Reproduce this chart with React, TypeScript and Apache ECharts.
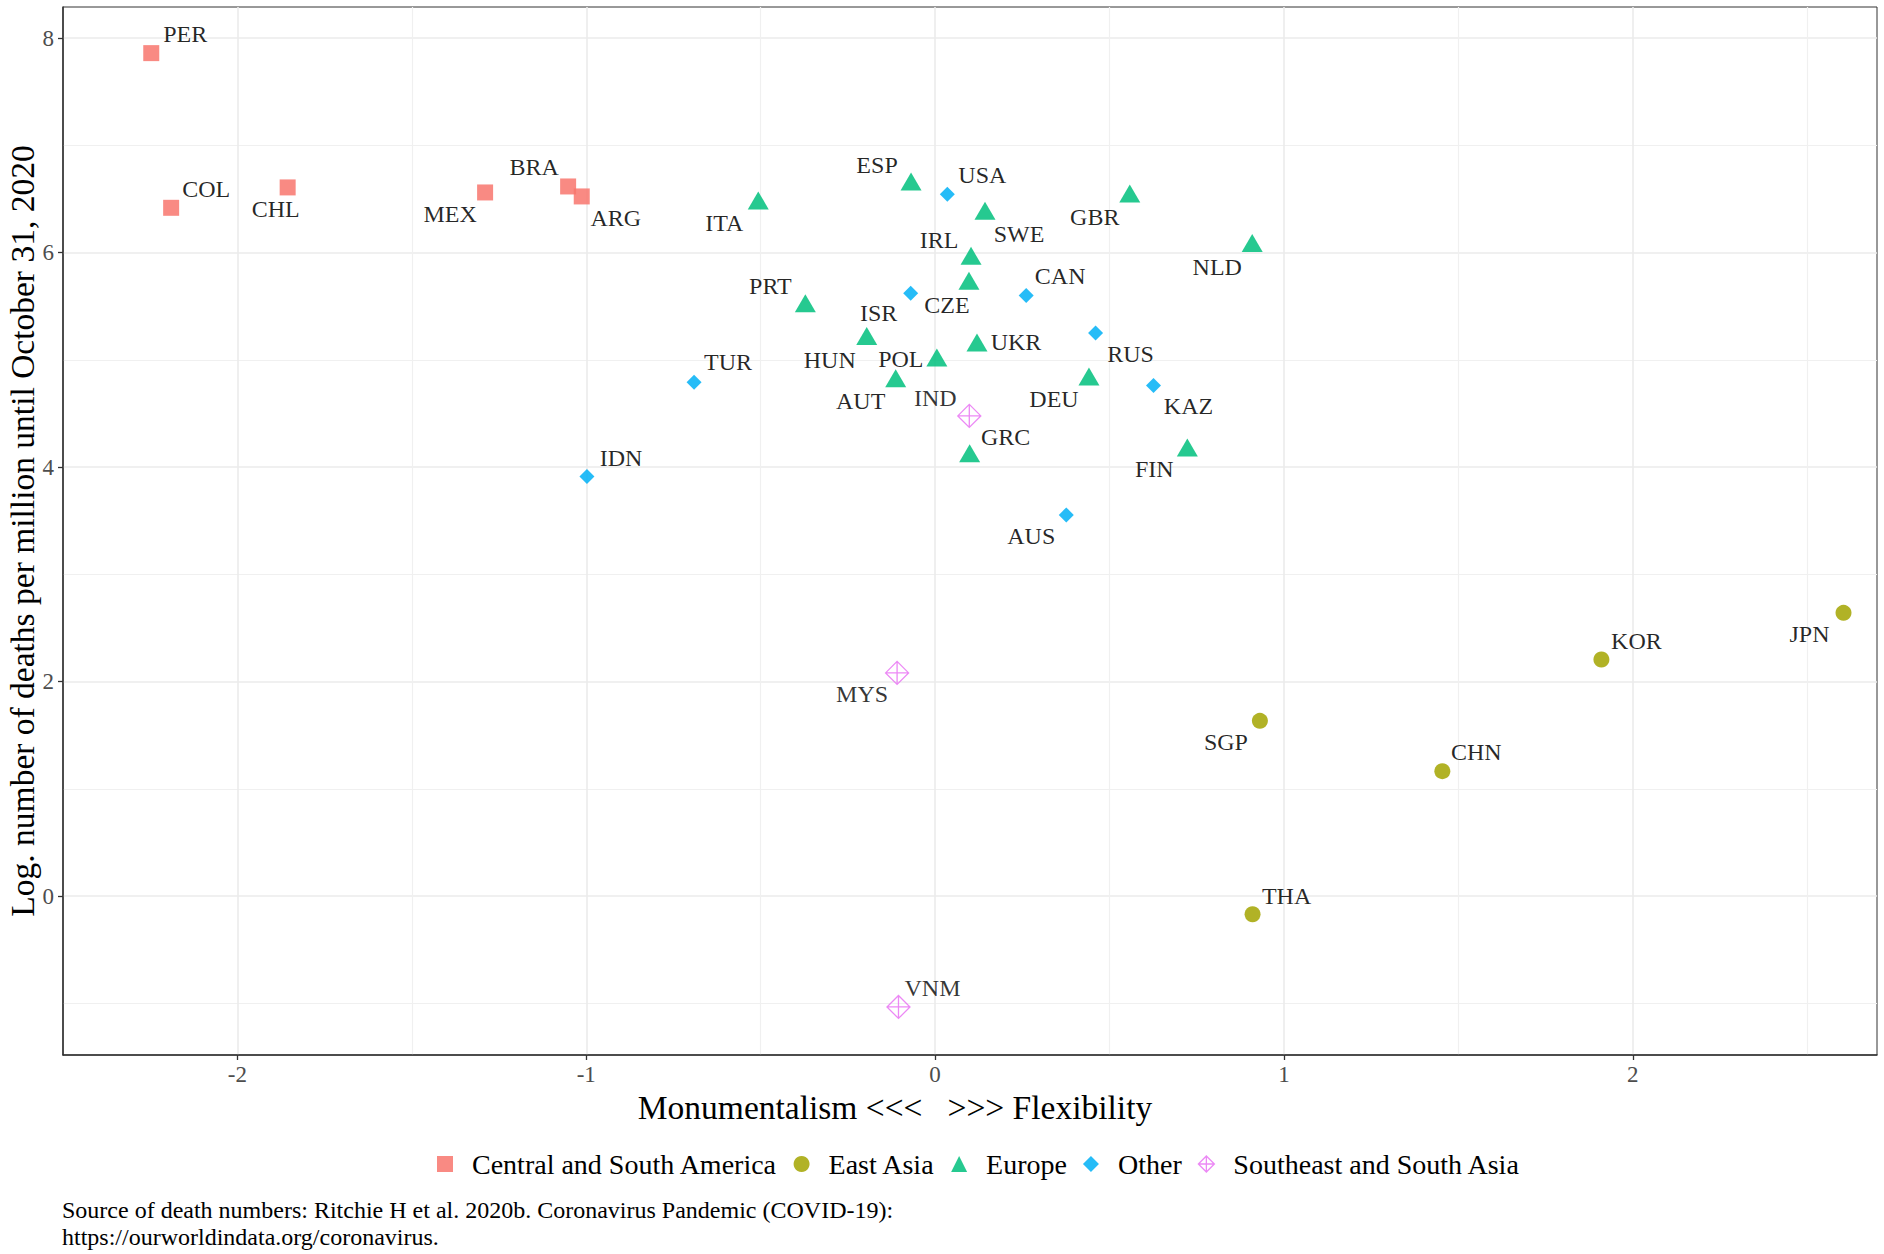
import React, { useEffect, useRef } from "react";
import * as echarts from "echarts";

// ---------- data ----------
const CATEGORIES = [
  "Central and South America",
  "East Asia",
  "Europe",
  "Other",
  "Southeast and South Asia",
];

const csaCountries = ["PER", "COL", "CHL", "MEX", "BRA", "ARG"];
const csaX = [-2.247, -2.19, -1.856, -1.29, -1.052, -1.013];
const csaY = [7.86, 6.418, 6.608, 6.561, 6.617, 6.524];

const eaCountries = ["JPN", "KOR", "SGP", "CHN", "THA"];
const eaX = [2.604, 1.91, 0.931, 1.454, 0.91];
const eaY = [2.642, 2.207, 1.635, 1.166, -0.168];

const euCountries = ["ITA", "ESP", "SWE", "GBR", "IRL", "CZE", "NLD", "PRT", "HUN", "POL", "UKR", "AUT", "DEU", "GRC", "FIN"];
const euX = [-0.507, -0.069, 0.143, 0.558, 0.103, 0.097, 0.909, -0.372, -0.196, 0.005, 0.12, -0.113, 0.441, 0.099, 0.723];
const euY = [6.487, 6.664, 6.39, 6.552, 5.97, 5.737, 6.089, 5.529, 5.224, 5.023, 5.163, 4.83, 4.846, 4.129, 4.184];

const otCountries = ["USA", "ISR", "CAN", "RUS", "TUR", "KAZ", "IDN", "AUS"];
const otX = [0.035, -0.07, 0.261, 0.46, -0.691, 0.626, -0.998, 0.376];
const otY = [6.545, 5.622, 5.601, 5.252, 4.792, 4.762, 3.913, 3.555];

const seCountries = ["IND", "MYS", "VNM"];
const seX = [0.098, -0.109, -0.105];
const seY = [4.478, 2.082, -1.032];

const xTicks = [-2, -1, 0, 1, 2];
const xMinorTicks = [-1.5, -0.5, 0.5, 1.5, 2.5];
const yTicks = [0, 2, 4, 6, 8];
const yMinorTicks = [-1, 1, 3, 5, 7];

const X_TITLE = "Monumentalism <<<   >>> Flexibility";
const Y_TITLE = "Log. number of deaths per million until October 31, 2020";
const CAPTION =
  "Source of death numbers: Ritchie H et al. 2020b. Coronavirus Pandemic (COVID-19):\nhttps://ourworldindata.org/coronavirus.";

// ---------- styling ----------
const SERIF = "'Liberation Serif', 'Times New Roman', serif";
const COLORS = ["#F8766D", "#A3A500", "#00BF7D", "#00B0F6", "#E76BF3"];
const SE_PATH = "path://M10 0L20 10L10 20L0 10ZM10 0L10 20M0 10L20 10";

// label offsets (px) from point to label centre, mimicking ggrepel placement
const LABEL_OFFSETS: Record<string, [number, number]> = {
  PER: [34, -19], COL: [35, -19], CHL: [-12, 22], MEX: [-35, 22], BRA: [-34, -19], ARG: [34, 22],
  JPN: [-34, 21], KOR: [35, -19], SGP: [-34, 21], CHN: [34, -19], THA: [34, -18],
  ITA: [-34, 23], ESP: [-34, -16], SWE: [34, 23], GBR: [-35, 24], IRL: [-32, -16], CZE: [-22, 24],
  NLD: [-35, 24], PRT: [-35, -17], HUN: [-37, 24], POL: [-36, 2], UKR: [39, 0], AUT: [-35, 23],
  DEU: [-35, 23], GRC: [36, -16], FIN: [-33, 22],
  USA: [35, -19], ISR: [-32, 20], CAN: [34, -19], RUS: [35, 21], TUR: [34, -20], KAZ: [35, 21],
  IDN: [34, -19], AUS: [-35, 21],
  IND: [-34, -18], MYS: [-35, 21], VNM: [34, -19],
};

function makeSeries(
  name: string,
  countries: string[],
  xs: number[],
  ys: number[],
  color: string,
  symbol: string,
  size: number | number[],
  hollow = false
) {
  return {
    name,
    type: "scatter",
    symbol,
    symbolSize: size,
    itemStyle: hollow
      ? { color: "rgba(0,0,0,0)", borderColor: color, borderWidth: 1.3 }
      : { color, opacity: 0.85 },
    label: {
      show: true,
      position: "inside",
      formatter: "{b}",
      color: "#000000",
      fontFamily: SERIF,
      fontSize: 24,
    },
    emphasis: { disabled: true },
    data: countries.map((c, i) => ({
      name: c,
      value: [xs[i], ys[i]],
      label: { offset: LABEL_OFFSETS[c] || [0, 0] },
    })),
  };
}

export default function App() {
  const ref = useRef<HTMLDivElement>(null);

  useEffect(() => {
    document.body.style.margin = "0";
    const chart = echarts.init(ref.current as HTMLDivElement, null, {
      renderer: "svg",
      width: 1884,
      height: 1254,
    });

    const axisNameStyle = { fontFamily: SERIF, fontSize: 33.5, color: "#000000" };
    const tickLabelStyle = { fontFamily: SERIF, fontSize: 23, color: "#4D4D4D" };

    const option: any = {
      animation: false,
      backgroundColor: "#ffffff",
      grid: {
        left: 63,
        top: 7,
        right: 7,
        bottom: 199,
        containLabel: false,
        outerBoundsMode: "none",
        show: true,
        borderColor: "#333333",
        borderWidth: 1,
        backgroundColor: "transparent",
      },
      xAxis: [
        {
          type: "value",
          min: -2.5,
          max: 2.7,
          position: "bottom",
          axisLine: { show: true, onZero: false, lineStyle: { color: "#333333", width: 1.5 } },
          axisTick: { show: true, length: 5, customValues: xTicks, lineStyle: { color: "#333333", width: 1.3 } },
          axisLabel: { ...tickLabelStyle, margin: 8, customValues: xTicks, formatter: (v: number) => String(v) },
          splitLine: { show: true, lineStyle: { color: "#EBEBEB", width: 1.6 } },
          name: X_TITLE,
          nameLocation: "middle",
          nameGap: 30,
          nameTextStyle: { ...axisNameStyle, padding: [0, 150, 0, 0] },
        },
        {
          type: "value",
          min: -2.5,
          max: 2.7,
          position: "top",
          axisLine: { show: false },
          axisTick: { show: false, customValues: xMinorTicks },
          axisLabel: { show: false, customValues: xMinorTicks },
          splitLine: { show: true, lineStyle: { color: "#F0F0F0", width: 1.2 } },
        },
      ],
      yAxis: [
        {
          type: "value",
          min: -1.48,
          max: 8.29,
          position: "left",
          axisLine: { show: true, onZero: false, lineStyle: { color: "#333333", width: 1.5 } },
          axisTick: { show: true, length: 5, customValues: yTicks, lineStyle: { color: "#333333", width: 1.3 } },
          axisLabel: { ...tickLabelStyle, margin: 9, customValues: yTicks, formatter: (v: number) => String(v) },
          splitLine: { show: true, lineStyle: { color: "#EBEBEB", width: 1.6 } },
          name: Y_TITLE,
          nameLocation: "middle",
          nameGap: 24,
          nameMoveOverlap: false,
          nameTextStyle: axisNameStyle,
        },
        {
          type: "value",
          min: -1.48,
          max: 8.29,
          position: "right",
          axisLine: { show: false },
          axisTick: { show: false, customValues: yMinorTicks },
          axisLabel: { show: false, customValues: yMinorTicks },
          splitLine: { show: true, lineStyle: { color: "#F0F0F0", width: 1.2 } },
        },
      ],
      legend: {
        left: 432,
        top: 1145,
        orient: "horizontal",
        itemWidth: 16,
        itemHeight: 16,
        itemGap: 16,
        selectedMode: false,
        textStyle: { fontFamily: SERIF, fontSize: 28, color: "#000000", padding: [0, 0, 0, 14] },
        data: [
          { name: CATEGORIES[0], icon: "rect" },
          { name: CATEGORIES[1], icon: "circle" },
          { name: CATEGORIES[2], icon: "triangle" },
          { name: CATEGORIES[3], icon: "diamond" },
          {
            name: CATEGORIES[4],
            icon: SE_PATH,
            itemStyle: { color: "rgba(0,0,0,0)", borderColor: COLORS[4], borderWidth: 1.3 },
          },
        ],
      },
      graphic: [
        {
          type: "text",
          left: 62,
          top: 1197,
          style: {
            text: CAPTION,
            font: "24px 'Liberation Serif', 'Times New Roman', serif",
            fill: "#000000",
            lineHeight: 26.4,
          },
        },
      ],
      series: [
        makeSeries(CATEGORIES[0], csaCountries, csaX, csaY, COLORS[0], "rect", 16),
        makeSeries(CATEGORIES[1], eaCountries, eaX, eaY, COLORS[1], "circle", 16),
        makeSeries(CATEGORIES[2], euCountries, euX, euY, COLORS[2], "triangle", [21, 18]),
        makeSeries(CATEGORIES[3], otCountries, otX, otY, COLORS[3], "diamond", 15),
        makeSeries(CATEGORIES[4], seCountries, seX, seY, COLORS[4], SE_PATH, 23, true),
      ],
    };

    chart.setOption(option);
    return () => chart.dispose();
  }, []);

  return (
    <div
      ref={ref}
      style={{ position: "absolute", left: 0, top: 0, width: 1884, height: 1254, background: "#ffffff" }}
    />
  );
}
